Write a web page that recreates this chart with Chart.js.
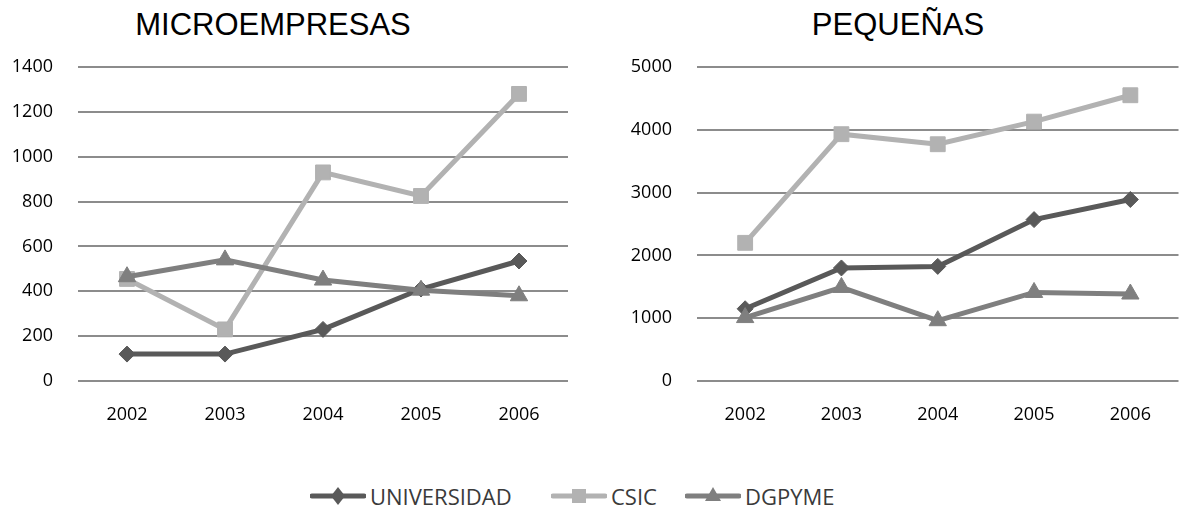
<!DOCTYPE html>
<html>
<head>
<meta charset="utf-8">
<script src="https://cdn.jsdelivr.net/npm/chart.js@4/dist/chart.umd.min.js"></script>
<style>
  html, body { margin: 0; padding: 0; width: 1181px; height: 508px; overflow: hidden; background: #fff; }
  .pane { position: absolute; top: 0; }
  .title {
    position: absolute; top: 9px; transform: translateX(-50%);
    font-family: "Liberation Sans", Arial, sans-serif; font-size: 31px; line-height: 1;
    color: #000; white-space: nowrap;
  }
  .legend-item { position: absolute; top: 485px; height: 22px; display: flex; align-items: center; }
  .legend-item span {
    font-family: "Open Sans", sans-serif; font-size: 22px; color: #3a3a3a; line-height: 22px; margin-left: 4px;
  }
</style>
</head>
<body>
<div class="title" style="left:273px">MICROEMPRESAS</div>
<div class="title" style="left:898px">PEQUEÑAS</div>
<canvas id="micro" class="pane" style="left:0px" width="590" height="440"></canvas>
<canvas id="pequenas" class="pane" style="left:590px" width="600" height="440"></canvas>
<div id="legend"></div>
<script>
// Years on the category axis
const years = ['2002', '2003', '2004', '2005', '2006'];

// Series names, in legend order
const seriesNames = ['UNIVERSIDAD', 'CSIC', 'DGPYME'];

// MICROEMPRESAS
const microUniversidad = [120, 120, 230, 410, 535];
const microCsic        = [455, 230, 930, 825, 1280];
const microDgpyme      = [465, 540, 450, 405, 380];
const microTicks       = [0, 200, 400, 600, 800, 1000, 1200, 1400];

// PEQUEÑAS
const pequenasUniversidad = [1150, 1800, 1825, 2570, 2890];
const pequenasCsic        = [2200, 3930, 3770, 4130, 4550];
const pequenasDgpyme      = [1010, 1490, 960, 1410, 1385];
const pequenasTicks       = [0, 1000, 2000, 3000, 4000, 5000];

// Styling per series
const seriesColors = ['#595959', '#b2b2b2', '#7f7f7f'];
const seriesPoints = ['rectRot', 'rect', 'triangle'];
const seriesRadius = [8, 10.5, 10];
const seriesOrder  = [3, 2, 1]; // DGPYME drawn on top

const tickFont = { family: 'Open Sans', size: 18 };

function datasets(values) {
  return values.map((v, i) => ({
    label: seriesNames[i],
    data: v,
    borderColor: seriesColors[i],
    backgroundColor: seriesColors[i],
    borderWidth: 5,
    pointStyle: seriesPoints[i],
    pointRadius: seriesRadius[i],
    pointBorderWidth: 1,
    pointBorderColor: seriesColors[i],
    pointBackgroundColor: seriesColors[i],
    tension: 0,
    order: seriesOrder[i]
  }));
}

function makeChart(id, values, ticks, layout) {
  const step = ticks[1] - ticks[0];
  return new Chart(document.getElementById(id), {
    type: 'line',
    data: { labels: years, datasets: datasets(values) },
    options: {
      responsive: false,
      animation: false,
      events: [],
      layout: { padding: { top: 67, right: layout.padRight, left: 0, bottom: 0 } },
      plugins: { legend: { display: false }, tooltip: { enabled: false }, title: { display: false } },
      scales: {
        x: {
          offset: true,
          grid: { display: false, drawTicks: false },
          border: { display: false },
          ticks: { font: tickFont, color: '#000', padding: 23, maxRotation: 0, autoSkip: false },
          afterFit(s) { s.height = 59; }
        },
        y: {
          min: ticks[0],
          max: ticks[ticks.length - 1],
          grid: { color: '#8c8c8c', lineWidth: 2, drawTicks: false },
          border: { display: false },
          ticks: {
            stepSize: step, font: tickFont, color: '#000', padding: 25,
            callback: (value) => String(value)
          },
          afterFit(s) { s.width = layout.axisWidth; }
        }
      }
    }
  });
}

makeChart('micro', [microUniversidad, microCsic, microDgpyme], microTicks, { axisWidth: 78, padRight: 22 });
makeChart('pequenas', [pequenasUniversidad, pequenasCsic, pequenasDgpyme], pequenasTicks, { axisWidth: 107, padRight: 3 });

// Shared legend below both charts
const legendLeft = [310, 551, 685];
function markerSvg(i) {
  const c = seriesColors[i];
  let m = '';
  if (seriesPoints[i] === 'rectRot') m = `<polygon points="28,2 35,11 28,20 21,11" fill="${c}"/>`;
  else if (seriesPoints[i] === 'rect') m = `<rect x="21" y="4" width="14" height="14" fill="${c}"/>`;
  else m = `<polygon points="28,2 36,16 20,16" fill="${c}"/>`;
  return `<svg width="56" height="22" viewBox="0 0 56 22"><line x1="2" y1="11" x2="54" y2="11" stroke="${c}" stroke-width="5" stroke-linecap="round"/>${m}</svg>`;
}
const legend = document.getElementById('legend');
seriesNames.forEach((name, i) => {
  const item = document.createElement('div');
  item.className = 'legend-item';
  item.style.left = legendLeft[i] + 'px';
  item.innerHTML = markerSvg(i) + `<span>${name}</span>`;
  legend.appendChild(item);
});
</script>
</body>
</html>
